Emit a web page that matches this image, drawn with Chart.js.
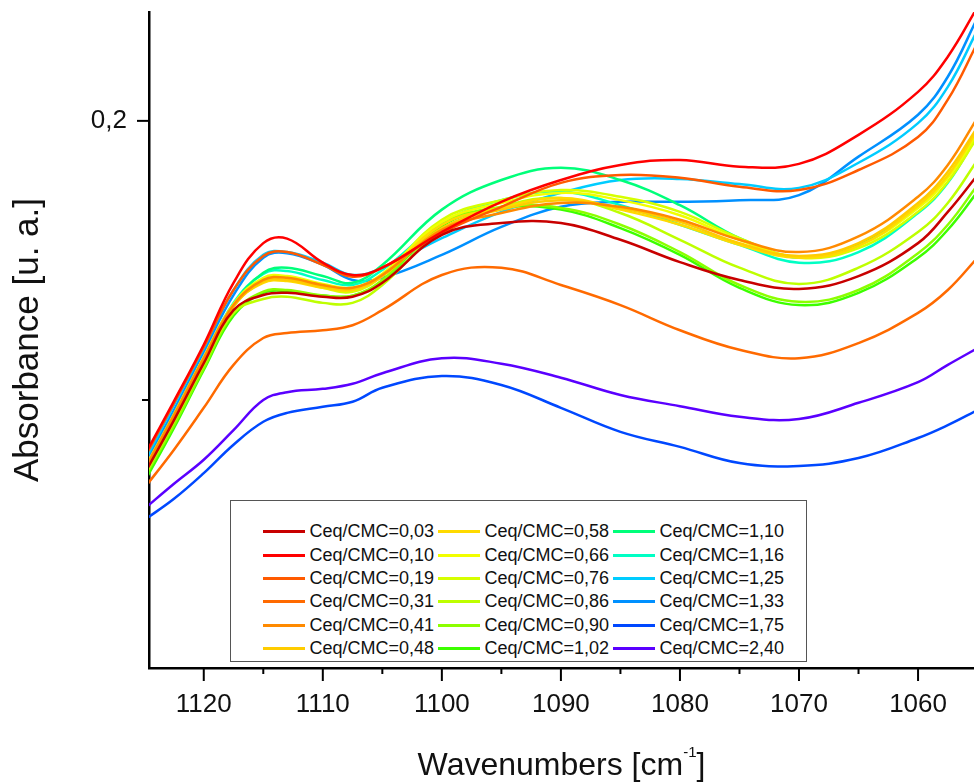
<!DOCTYPE html>
<html>
<head>
<meta charset="utf-8">
<script src="https://cdn.jsdelivr.net/npm/chart.js@4.4.1/dist/chart.umd.min.js"></script>
<style>
  body { margin: 0; background: #fff; }
  #wrap { position: relative; width: 974px; height: 782px; }
  #legend {
    position: absolute; left: 230px; top: 500px; width: 577px; height: 162px;
    box-sizing: border-box; border: 1.5px solid #555; background: #fff;
    padding: 19px 0 0 31.5px;
    display: grid; grid-auto-flow: column;
    grid-template-rows: repeat(6, 23.4px); grid-template-columns: repeat(3, 175px);
    font: 18px "Liberation Sans", Arial, sans-serif; color: #111;
  }
  #legend .item { display: flex; align-items: center; white-space: nowrap; }
  #legend .swatch { width: 42px; height: 3px; margin-right: 5px; }
</style>
</head>
<body>
<div id="wrap">
  <canvas id="myChart" width="974" height="782"></canvas>
  <div id="legend"></div>
</div>
<script>
// wavenumbers (cm-1)
const wavenumbers = [1125, 1122.5, 1120, 1117.5, 1115, 1113, 1110, 1107.5, 1105, 1100, 1095, 1090, 1085, 1080, 1075, 1070, 1065, 1060, 1057.5, 1055];

const labels = ['Ceq/CMC=0,03', 'Ceq/CMC=0,10', 'Ceq/CMC=0,19', 'Ceq/CMC=0,31', 'Ceq/CMC=0,41', 'Ceq/CMC=0,48',
                'Ceq/CMC=0,58', 'Ceq/CMC=0,66', 'Ceq/CMC=0,76', 'Ceq/CMC=0,86', 'Ceq/CMC=0,90', 'Ceq/CMC=1,02',
                'Ceq/CMC=1,10', 'Ceq/CMC=1,16', 'Ceq/CMC=1,25', 'Ceq/CMC=1,33', 'Ceq/CMC=1,75', 'Ceq/CMC=2,40'];

// absorbance of each sample
const a003 = [0.1367, 0.1464, 0.1566, 0.1661, 0.1688, 0.1692, 0.1685, 0.1685, 0.1710, 0.1796, 0.1817, 0.1817, 0.1787, 0.1747, 0.1715, 0.1699, 0.1722, 0.1781, 0.1837, 0.1903];
const a010 = [0.1400, 0.1498, 0.1599, 0.1710, 0.1781, 0.1789, 0.1746, 0.1724, 0.1737, 0.1801, 0.1855, 0.1894, 0.1921, 0.1930, 0.1918, 0.1923, 0.1975, 0.2052, 0.2115, 0.2204];
const a019 = [0.1396, 0.1495, 0.1595, 0.1697, 0.1758, 0.1765, 0.1742, 0.1721, 0.1737, 0.1799, 0.1846, 0.1889, 0.1903, 0.1898, 0.1882, 0.1876, 0.1912, 0.1971, 0.2038, 0.2140];
const a031 = [0.1342, 0.1411, 0.1486, 0.1563, 0.1611, 0.1620, 0.1625, 0.1634, 0.1661, 0.1724, 0.1737, 0.1706, 0.1670, 0.1625, 0.1590, 0.1575, 0.1602, 0.1656, 0.1697, 0.1755];
const a041 = [0.1375, 0.1473, 0.1575, 0.1670, 0.1715, 0.1719, 0.1706, 0.1701, 0.1724, 0.1805, 0.1835, 0.1853, 0.1846, 0.1823, 0.1787, 0.1765, 0.1793, 0.1864, 0.1921, 0.2006];
const a048 = [0.1371, 0.1470, 0.1572, 0.1667, 0.1712, 0.1715, 0.1703, 0.1699, 0.1722, 0.1808, 0.1841, 0.1858, 0.1844, 0.1819, 0.1781, 0.1758, 0.1781, 0.1853, 0.1909, 0.1989];
const a058 = [0.1373, 0.1471, 0.1574, 0.1669, 0.1710, 0.1713, 0.1701, 0.1697, 0.1722, 0.1814, 0.1844, 0.1862, 0.1841, 0.1814, 0.1778, 0.1755, 0.1776, 0.1848, 0.1902, 0.1984];
const a066 = [0.1377, 0.1475, 0.1577, 0.1672, 0.1719, 0.1722, 0.1708, 0.1701, 0.1726, 0.1819, 0.1853, 0.1871, 0.1858, 0.1831, 0.1787, 0.1756, 0.1776, 0.1844, 0.1898, 0.1978];
const a076 = [0.1373, 0.1471, 0.1574, 0.1669, 0.1715, 0.1719, 0.1701, 0.1694, 0.1722, 0.1823, 0.1858, 0.1876, 0.1864, 0.1837, 0.1790, 0.1755, 0.1772, 0.1837, 0.1891, 0.1971];
const a086 = [0.1364, 0.1461, 0.1563, 0.1656, 0.1681, 0.1685, 0.1674, 0.1674, 0.1706, 0.1805, 0.1846, 0.1862, 0.1835, 0.1787, 0.1737, 0.1708, 0.1737, 0.1801, 0.1853, 0.1930];
const a090 = [0.1360, 0.1455, 0.1557, 0.1656, 0.1694, 0.1697, 0.1687, 0.1687, 0.1715, 0.1814, 0.1846, 0.1844, 0.1814, 0.1765, 0.1706, 0.1676, 0.1697, 0.1763, 0.1814, 0.1885];
const a102 = [0.1353, 0.1450, 0.1554, 0.1651, 0.1692, 0.1695, 0.1687, 0.1687, 0.1713, 0.1812, 0.1844, 0.1841, 0.1808, 0.1760, 0.1701, 0.1670, 0.1692, 0.1755, 0.1805, 0.1873];
const a110 = [0.1366, 0.1464, 0.1568, 0.1670, 0.1728, 0.1737, 0.1722, 0.1710, 0.1742, 0.1841, 0.1894, 0.1916, 0.1894, 0.1849, 0.1790, 0.1755, 0.1778, 0.1846, 0.1900, 0.1984];
const a116 = [0.1375, 0.1473, 0.1575, 0.1674, 0.1726, 0.1731, 0.1715, 0.1706, 0.1733, 0.1817, 0.1858, 0.1873, 0.1849, 0.1814, 0.1778, 0.1746, 0.1765, 0.1835, 0.1889, 0.1975];
const a125 = [0.1389, 0.1491, 0.1593, 0.1697, 0.1760, 0.1765, 0.1746, 0.1724, 0.1737, 0.1790, 0.1837, 0.1871, 0.1894, 0.1896, 0.1887, 0.1880, 0.1925, 0.1996, 0.2061, 0.2163];
const a133 = [0.1384, 0.1482, 0.1586, 0.1688, 0.1755, 0.1763, 0.1742, 0.1715, 0.1719, 0.1760, 0.1810, 0.1846, 0.1855, 0.1855, 0.1858, 0.1867, 0.1936, 0.2011, 0.2079, 0.2185];
const a175 = [0.1285, 0.1323, 0.1369, 0.1420, 0.1461, 0.1477, 0.1488, 0.1497, 0.1522, 0.1543, 0.1527, 0.1486, 0.1443, 0.1416, 0.1387, 0.1382, 0.1396, 0.1432, 0.1455, 0.1482];
const a240 = [0.1305, 0.1350, 0.1393, 0.1446, 0.1500, 0.1514, 0.1520, 0.1529, 0.1548, 0.1575, 0.1565, 0.1540, 0.1509, 0.1489, 0.1470, 0.1466, 0.1495, 0.1532, 0.1563, 0.1593];

const series = [a003, a010, a019, a031, a041, a048, a058, a066, a076, a086, a090, a102, a110, a116, a125, a133, a175, a240];

const colors = ['#C80000', '#FF0000', '#FF5A00', '#FF6A00', '#FF8A00', '#FFCC00',
                '#FFDA00', '#F2FF00', '#D6FF00', '#BEFF00', '#8CFF00', '#3CFF00',
                '#00FF7A', '#00FFC4', '#00CCFF', '#0090FF', '#0048FF', '#5A00FF'];

const yTickLabels = { '0.2': '0,2' };

Chart.defaults.font.family = '"Liberation Sans", Arial, sans-serif';
Chart.defaults.color = '#111';

// ticks: long for major, short for minor (like Origin)
const tickMarks = {
  id: 'tickMarks',
  afterDraw(chart) {
    const ctx = chart.ctx;
    const xs = chart.scales.x, ys = chart.scales.y;
    ctx.save();
    ctx.strokeStyle = '#000';
    ctx.lineWidth = 2;
    xs.ticks.forEach(t => {
      const px = xs.getPixelForValue(t.value);
      const len = t.value % 10 === 0 ? 13 : 6;
      ctx.beginPath(); ctx.moveTo(px, xs.top); ctx.lineTo(px, xs.top + len); ctx.stroke();
    });
    ys.ticks.forEach(t => {
      const py = ys.getPixelForValue(t.value);
      const major = Math.abs(Math.round(t.value * 10) - t.value * 10) < 1e-6;
      const len = major ? 12 : 7;
      ctx.beginPath(); ctx.moveTo(ys.right, py); ctx.lineTo(ys.right - len, py); ctx.stroke();
    });

    // x axis title with superscript
    const area = chart.chartArea;
    const big = '32px "Liberation Sans", Arial, sans-serif';
    const small = '15px "Liberation Sans", Arial, sans-serif';
    ctx.fillStyle = '#111';
    ctx.textBaseline = 'alphabetic';
    ctx.font = big;
    const w1 = ctx.measureText('Wavenumbers [cm').width;
    const w3 = ctx.measureText(']').width;
    ctx.font = small;
    const w2 = ctx.measureText('-1').width;
    let x = (area.left + area.right) / 2 - (w1 + w2 + w3) / 2;
    const base = chart.height - 7;
    ctx.font = big;
    ctx.fillText('Wavenumbers [cm', x, base);
    x += w1;
    ctx.font = small;
    ctx.fillText('-1', x, base - 18);
    x += w2;
    ctx.font = big;
    ctx.fillText(']', x, base);
    ctx.restore();
  }
};

const datasets = series.map((s, i) => ({
  label: labels[i],
  data: wavenumbers.map((w, j) => ({ x: w, y: s[j] })),
  borderColor: colors[i],
  backgroundColor: colors[i],
  borderWidth: 2.5,
  pointRadius: 0,
  fill: false,
  tension: 0.4
}));

const ctx = document.getElementById('myChart').getContext('2d');
const myChart = new Chart(ctx, {
  type: 'line',
  data: { datasets: datasets },
  options: {
    responsive: false,
    animation: false,
    layout: { padding: { top: 12, right: 0, bottom: 0, left: 0 } },
    plugins: {
      legend: { display: false },
      tooltip: { enabled: false }
    },
    scales: {
      x: {
        type: 'linear',
        reverse: true,
        min: 1055.3,
        max: 1124.6,
        afterFit: s => { s.height = 114; s.paddingLeft = 0; s.paddingRight = 0; },
        border: { color: '#000', width: 2.5 },
        grid: { drawOnChartArea: false, tickLength: 13, tickColor: 'rgba(0,0,0,0)' },
        ticks: {
          stepSize: 5,
          includeBounds: false,
          autoSkip: false,
          maxRotation: 0,
          padding: 8,
          font: { size: 26 },
          callback: v => (v % 10 === 0 ? String(v) : '')
        }
      },
      y: {
        min: 0.102,
        max: 0.2195,
        afterFit: s => { s.width = 149; s.paddingTop = 0; s.paddingBottom = 0; },
        border: { color: '#000', width: 2.5 },
        grid: { drawOnChartArea: false, tickLength: 12, tickColor: 'rgba(0,0,0,0)' },
        ticks: {
          stepSize: 0.05,
          includeBounds: false,
          padding: 10,
          font: { size: 26 },
          callback: v => yTickLabels[String(Math.round(v * 100) / 100)] || ''
        },
        title: {
          display: true,
          text: 'Absorbance [u. a.]',
          font: { size: 35 },
          padding: { top: 7, bottom: 0 }
        }
      }
    }
  },
  plugins: [tickMarks]
});

// legend in three columns, filled top to bottom
const legend = document.getElementById('legend');
myChart.data.datasets.forEach(ds => {
  const item = document.createElement('div');
  item.className = 'item';
  const sw = document.createElement('span');
  sw.className = 'swatch';
  sw.style.background = ds.borderColor;
  const txt = document.createElement('span');
  txt.textContent = ds.label;
  item.appendChild(sw);
  item.appendChild(txt);
  legend.appendChild(item);
});
</script>
</body>
</html>
